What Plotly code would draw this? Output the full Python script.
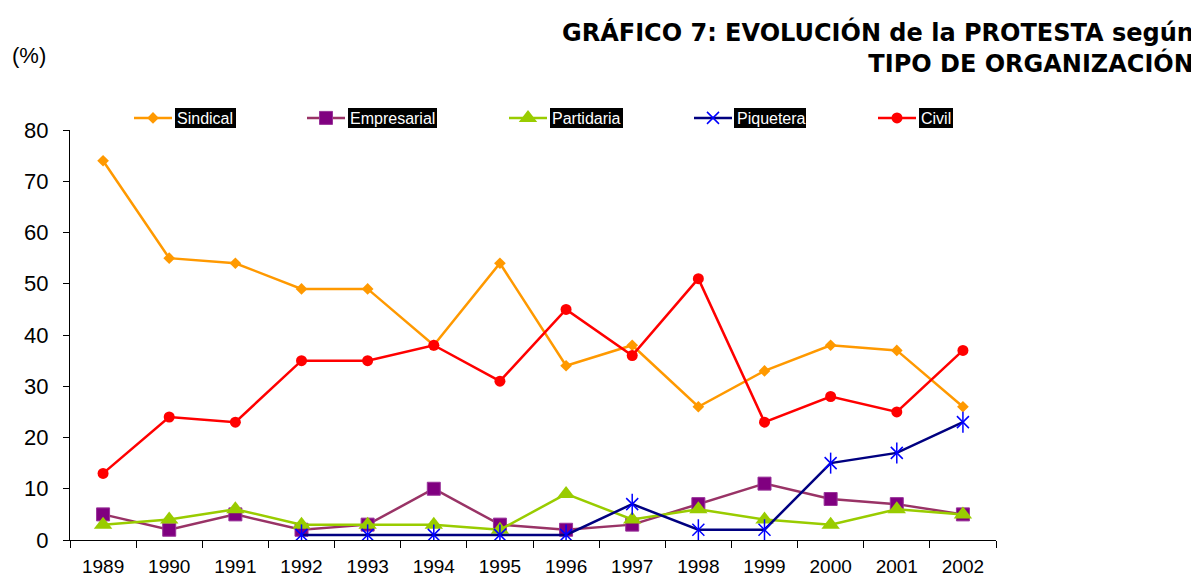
import plotly.graph_objects as go

years = ["1989", "1990", "1991", "1992", "1993", "1994", "1995", "1996",
         "1997", "1998", "1999", "2000", "2001", "2002"]
sindical = [74, 55, 54, 49, 49, 38, 54, 34, 38, 26, 33, 38, 37, 26]
empresarial = [5, 2, 5, 2, 3, 10, 3, 2, 3, 7, 11, 8, 7, 5]
partidaria = [3, 4, 6, 3, 3, 3, 2, 9, 4, 6, 4, 3, 6, 5]
piquetera = [None, None, None, 1, 1, 1, 1, 1, 7, 2, 2, 15, 17, 23]
civil = [13, 24, 23, 35, 35, 38, 31, 45, 36, 51, 23, 28, 25, 37]

# page offset (browser body margin) and target screen geometry
OFF = 8
W, H = 1199 - OFF, 577 - OFF
L, R, T, B = 70, 996, 130, 540  # plot area in screen pixels


def px(x):
    return (x - L) / (R - L)


def py(y):
    return (B - y) / (B - T)


fig = go.Figure()

fig.add_trace(go.Scatter(
    x=years, y=sindical, name="Sindical", mode="lines+markers",
    line=dict(color="#FF9900", width=2.5),
    marker=dict(symbol="diamond", size=9, color="#FF9900"),
    legend="legend"))
fig.add_trace(go.Scatter(
    x=years, y=empresarial, name="Empresarial", mode="lines+markers",
    line=dict(color="#993366", width=2.5),
    marker=dict(symbol="square", size=13, color="#800080",
                line=dict(color="#993399", width=1)),
    legend="legend2"))
fig.add_trace(go.Scatter(
    x=years, y=partidaria, name="Partidaria", mode="lines+markers",
    line=dict(color="#99CC00", width=2.5),
    marker=dict(symbol="triangle-up", size=16, color="#99CC00"),
    legend="legend3"))
fig.add_trace(go.Scatter(
    x=years, y=piquetera, name="Piquetera", mode="lines+markers",
    line=dict(color="#000080", width=2.5),
    marker=dict(symbol="x-thin-open", size=12, color="#0000FF",
                line=dict(color="#0000FF", width=1.5)),
    legend="legend4"))
fig.add_trace(go.Scatter(
    x=years, y=piquetera, name="Piquetera", mode="markers",
    marker=dict(symbol="line-ns-open", size=15, color="#0000FF",
                line=dict(color="#0000FF", width=1.5)),
    showlegend=False, hoverinfo="skip"))
fig.add_trace(go.Scatter(
    x=years, y=civil, name="Civil", mode="lines+markers",
    line=dict(color="#FF0000", width=2.5),
    marker=dict(symbol="circle", size=11, color="#FF0000"),
    legend="legend5"))

# legend layout: symbol start pixel, label box
leg_sym_x = [134, 307, 509, 694, 878]
leg_boxes = [(175, 236), (348, 437), (550, 623), (734, 806), (919, 953)]
leg_y = 118

legend_common = dict(
    orientation="h", xanchor="left", yanchor="middle",
    bgcolor="rgba(0,0,0,0)", borderwidth=0, itemwidth=38,
    font=dict(family="Liberation Sans, Arial, sans-serif", size=16, color="white"),
)
legend_layout = {}
names = ["legend", "legend2", "legend3", "legend4", "legend5"]
for nm, sx in zip(names, leg_sym_x):
    legend_layout[nm] = dict(legend_common, x=px(sx - 5), y=py(leg_y))

shapes = []
for (x0, x1) in leg_boxes:
    shapes.append(dict(type="rect", xref="paper", yref="paper",
                       x0=px(x0), x1=px(x1), y0=py(128), y1=py(108),
                       fillcolor="black", line=dict(width=0), layer="above"))

fig.update_layout(
    width=W, height=H,
    margin=dict(l=L - OFF, r=W - (R - OFF), t=T - OFF, b=H - (B - OFF), pad=0),
    plot_bgcolor="white", paper_bgcolor="white",
    font=dict(family="Liberation Sans, Arial, sans-serif", color="black"),
    shapes=shapes,
    **legend_layout,
    xaxis=dict(
        type="category", tickson="boundaries", range=[-0.5, 13.5],
        showline=True, linecolor="black", linewidth=1.2,
        ticks="outside", ticklen=7, tickcolor="black", tickwidth=1.2,
        showgrid=False, zeroline=False, automargin=False,
        tickfont=dict(size=19), ticklabelstandoff=9,
    ),
    yaxis=dict(
        range=[0, 80], dtick=10, tick0=0,
        showline=True, linecolor="black", linewidth=1.2,
        ticks="outside", ticklen=6, tickcolor="black", tickwidth=1.2,
        showgrid=False, zeroline=False, automargin=False,
        tickfont=dict(size=22), ticklabelstandoff=10,
    ),
    annotations=[
        dict(text="GRÁFICO 7: EVOLUCIÓN de la PROTESTA según<br>TIPO DE ORGANIZACIÓN",
             xref="paper", yref="paper", x=px(1196), y=py(15),
             xanchor="right", yanchor="top", align="right", showarrow=False,
             font=dict(family="DejaVu Sans", size=24, color="black", weight="bold")),
        dict(text="(%)", xref="paper", yref="paper", x=px(10), y=py(55),
             xanchor="left", yanchor="middle", showarrow=False,
             font=dict(size=22, color="black")),
    ],
)

fig.write_html("out.html")
